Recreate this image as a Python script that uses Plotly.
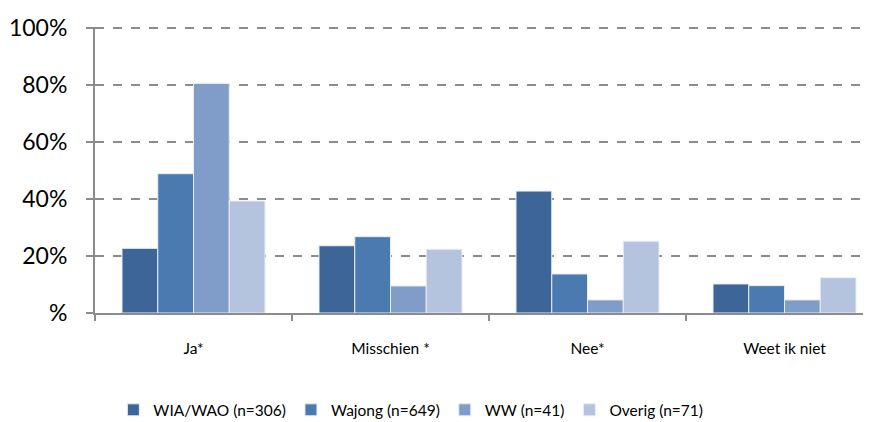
import plotly.graph_objects as go

# answer categories and groups
categories = ["Ja*", "Misschien *", "Nee*", "Weet ik niet"]
series_names = ["WIA/WAO (n=306)", "Wajong (n=649)", "WW (n=41)", "Overig (n=71)"]
wia_wao = [22.7, 23.6, 42.8, 10.2]
wajong = [48.9, 26.8, 13.7, 9.6]
ww = [80.6, 9.5, 4.6, 4.6]
overig = [39.3, 22.4, 25.2, 12.4]

y_tickvals = [0, 20, 40, 60, 80, 100]
y_ticktext = ["%", "20%", "40%", "60%", "80%", "100%"]

colors = ["#3d6598", "#4a7ab0", "#7f9dc8", "#b5c4de"]

fig = go.Figure()
for name, vals, col in zip(series_names, [wia_wao, wajong, ww, overig], colors):
    fig.add_trace(
        go.Bar(
            x=categories,
            y=vals,
            name=name,
            marker=dict(color=col, line=dict(color="#e8edf5", width=1)),
        )
    )

# the page body adds an 8px offset, so margins are shifted to compensate
fig.update_layout(
    width=871,
    height=422,
    margin=dict(l=87, r=8, t=19, b=117, autoexpand=False),
    paper_bgcolor="white",
    plot_bgcolor="white",
    barmode="group",
    bargap=0.274,
    bargroupgap=0,
    font=dict(family="Lato, Carlito, sans-serif", color="#000000"),
    showlegend=True,
    legend=dict(
        orientation="h",
        x=0.407,
        xanchor="center",
        y=-0.34,
        yanchor="middle",
        font=dict(size=15.5),
        itemwidth=30,
    ),
)

fig.update_xaxes(
    range=[-0.5, 3.439],
    showline=True,
    linecolor="#8c8c8c",
    linewidth=2,
    ticks="outside",
    tickson="boundaries",
    ticklen=6,
    tickcolor="#8c8c8c",
    tickwidth=2,
    tickfont=dict(size=15.5),
    ticklabelstandoff=20,
    showgrid=False,
    automargin=False,
)

# small headroom so the 100% gridline is still drawn
fig.update_yaxes(
    range=[0, 100.4],
    tickvals=y_tickvals,
    ticktext=y_ticktext,
    showline=True,
    linecolor="#8c8c8c",
    linewidth=2,
    ticks="outside",
    ticklen=7,
    tickcolor="#8c8c8c",
    tickwidth=2,
    tickfont=dict(size=23),
    ticklabelstandoff=14,
    showgrid=True,
    gridcolor="#8c8c8c",
    gridwidth=1.5,
    griddash="dash",
    zeroline=False,
    automargin=False,
)

fig.write_html("out.html")
